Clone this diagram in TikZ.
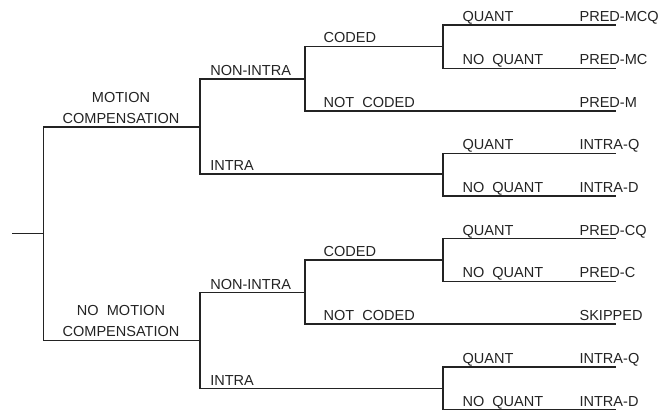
\documentclass[tikz,border=0pt]{standalone}
\usepackage{fontspec}
\setmainfont{Liberation Sans}
\definecolor{treeline}{RGB}{35,35,35}

\begin{document}
\begin{tikzpicture}[x=0.75pt,y=-0.75pt,
    branch/.style={draw=treeline,line width=0.9pt},
    lbl/.style={inner sep=0pt,anchor=base west,text=treeline,
      font=\fontsize{10.9}{15.75}\selectfont},
    caption/.style={lbl,anchor=base,align=center}
  ]
    \useasboundingbox (0,0) rectangle (660,411);
    % junctions and leaf ends
    \coordinate (in) at (12,233.3);
    \coordinate (root) at (43.5,233.3);
    \coordinate (mc) at (200,127);
    \coordinate (nmc) at (200,340.7);
    \coordinate (mcni) at (305,79);
    \coordinate (mci) at (443,174);
    \coordinate (mcc) at (443,46.3);
    \coordinate (mcnc) at (616,111);
    \coordinate (mcq) at (616,25);
    \coordinate (mcnq) at (616,68.3);
    \coordinate (mciq) at (616,153.3);
    \coordinate (mcid) at (616,196);
    \coordinate (nmcni) at (305,292.7);
    \coordinate (nmci) at (443,388.7);
    \coordinate (nmcc) at (443,260);
    \coordinate (nmcnc) at (616,324);
    \coordinate (nmcq) at (616,238.7);
    \coordinate (nmcnq) at (616,281.3);
    \coordinate (nmciq) at (616,367);
    \coordinate (nmcid) at (616,409.6);

    % branches
    \draw[branch] (in) -- (root);
    \draw[branch] (root) |- (mc);
    \draw[branch] (root) |- (nmc);
    \draw[branch] (mc) |- (mcni);
    \draw[branch] (mc) |- (mci);
    \draw[branch] (mcni) |- (mcc);
    \draw[branch] (mcni) |- (mcnc);
    \draw[branch] (mcc) |- (mcq);
    \draw[branch] (mcc) |- (mcnq);
    \draw[branch] (mci) |- (mciq);
    \draw[branch] (mci) |- (mcid);
    \draw[branch] (nmc) |- (nmcni);
    \draw[branch] (nmc) |- (nmci);
    \draw[branch] (nmcni) |- (nmcc);
    \draw[branch] (nmcni) |- (nmcnc);
    \draw[branch] (nmcc) |- (nmcq);
    \draw[branch] (nmcc) |- (nmcnq);
    \draw[branch] (nmci) |- (nmciq);
    \draw[branch] (nmci) |- (nmcid);

    % labels, upper half
    \node[caption] (mclbl) at (121,123.3) {MOTION\\COMPENSATION};
    \node[lbl] (mcnilbl) at (210,75.4) {NON-INTRA};
    \node[lbl] (mcilbl) at (210,170.4) {INTRA};
    \node[lbl] (mcclbl) at (323.3,42.7) {CODED};
    \node[lbl] (mcnclbl) at (323.3,107.4) {NOT~~CODED};
    \node[lbl] (mcqlbl) at (462.3,21.4) {QUANT};
    \node[lbl] (mcnqlbl) at (462.3,64.7) {NO~~QUANT};
    \node[lbl] (mciqlbl) at (462.3,149.7) {QUANT};
    \node[lbl] (mcidlbl) at (462.3,192.4) {NO~~QUANT};
    \node[lbl] (predmcq) at (579.3,21.4) {PRED-MCQ};
    \node[lbl] (predmc) at (579.3,64.7) {PRED-MC};
    \node[lbl] (predm) at (579.3,107.4) {PRED-M};
    \node[lbl] (intraq) at (579.3,149.7) {INTRA-Q};
    \node[lbl] (intrad) at (579.3,192.4) {INTRA-D};

    % labels, lower half
    \node[caption] (nmclbl) at (121,336.7) {NO~~MOTION\\COMPENSATION};
    \node[lbl] (nmcnilbl) at (210,289.1) {NON-INTRA};
    \node[lbl] (nmcilbl) at (210,385.1) {INTRA};
    \node[lbl] (nmcclbl) at (323.3,256.4) {CODED};
    \node[lbl] (nmcnclbl) at (323.3,320.4) {NOT~~CODED};
    \node[lbl] (nmcqlbl) at (462.3,235.1) {QUANT};
    \node[lbl] (nmcnqlbl) at (462.3,277.7) {NO~~QUANT};
    \node[lbl] (nmciqlbl) at (462.3,363.4) {QUANT};
    \node[lbl] (nmcidlbl) at (462.3,406) {NO~~QUANT};
    \node[lbl] (predcq) at (579.3,235.1) {PRED-CQ};
    \node[lbl] (predc) at (579.3,277.7) {PRED-C};
    \node[lbl] (skipped) at (579.3,320.4) {SKIPPED};
    \node[lbl] (intraq2) at (579.3,363.4) {INTRA-Q};
    \node[lbl] (intrad2) at (579.3,406) {INTRA-D};
  \end{tikzpicture}
\end{document}
